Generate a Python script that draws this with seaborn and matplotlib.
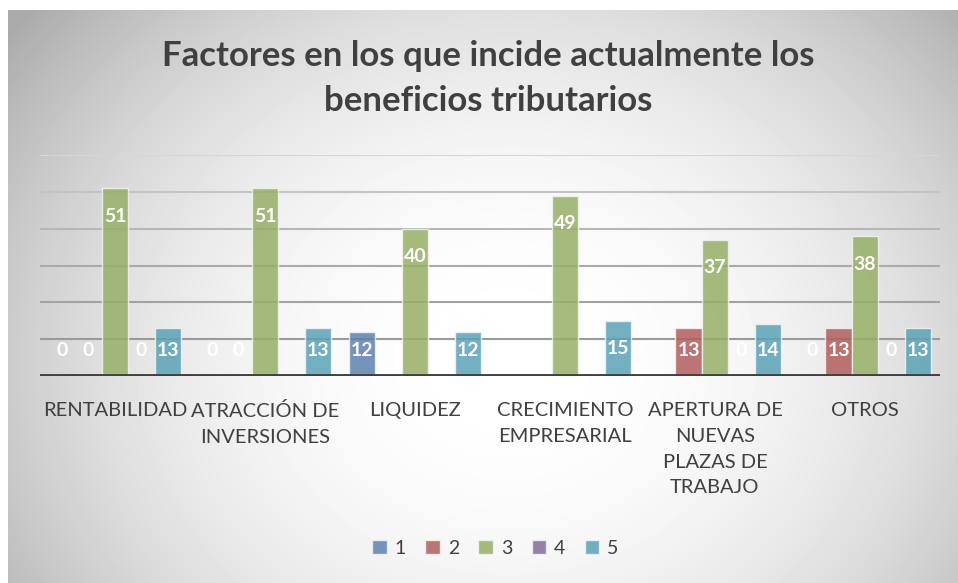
import numpy as np
import pandas as pd
import seaborn as sns
import matplotlib
matplotlib.use('Agg')
import matplotlib.pyplot as plt

# data (NaN = no bar drawn)
categories = ["RENTABILIDAD", "ATRACCIÓN DE\nINVERSIONES", "LIQUIDEZ",
              "CRECIMIENTO\nEMPRESARIAL", "APERTURA DE\nNUEVAS\nPLAZAS DE\nTRABAJO", "OTROS"]
series_names = ["1", "2", "3", "4", "5"]
s1 = [0, 0, 12, np.nan, np.nan, 0]
s2 = [0, 0, np.nan, np.nan, 13, 13]
s3 = [51, 51, 40, 49, 37, 38]
s4 = [0, np.nan, np.nan, np.nan, 0, 0]
s5 = [13, 13, 12, 15, 14, 13]
y_ticks = [0, 10, 20, 30, 40, 50, 60]

colors = ["#4F81BD", "#C0504D", "#9BBB59", "#8064A2", "#4BACC6"]
TITLE = "Factores en los que incide actualmente los\nbeneficios tributarios"

rows = []
for name, vals in zip(series_names, [s1, s2, s3, s4, s5]):
    for cat, v in zip(categories, vals):
        rows.append({"categoria": cat, "serie": name, "valor": v})
df = pd.DataFrame(rows)

sns.set_theme(style="white")
plt.rcParams['font.family'] = ['Lato', 'DejaVu Sans']

fig = plt.figure(figsize=(9.58, 5.83), dpi=100)

# radial grey-to-white background, like the Office chart area
bg = fig.add_axes([8 / 958, 0, 950 / 958, 573 / 583], zorder=-10)
yy, xx = np.mgrid[0:573, 0:950]
r = np.sqrt(((xx - 500) / 520.0) ** 2 + ((yy - 350) / 450.0) ** 2)
shade = 1.0 - 0.22 * np.clip(r, 0, 1.2) ** 2.2
bg.imshow(shade, cmap="gray", vmin=0, vmax=1, aspect="auto", interpolation="bilinear")
bg.set_axis_off()

ax = fig.add_axes([40 / 958, 1 - 376 / 583, 900 / 958, 221 / 583])
ax.patch.set_alpha(0)

sns.barplot(
    data=df, x="categoria", y="valor", hue="serie",
    order=categories, hue_order=series_names, palette=colors,
    width=0.88, errorbar=None, alpha=0.85,
    edgecolor="#F2F2F2", linewidth=1.0, legend=True, ax=ax, zorder=3
)

ax.set_ylim(0, 60)
ax.set_xlim(-0.5, len(categories) - 0.5)
ax.set_yticks(y_ticks)
ax.set_yticklabels([])
ax.tick_params(axis="y", length=0)
ax.tick_params(axis="x", length=0, pad=19)
ax.set_xlabel("")
ax.set_ylabel("")
for lbl in ax.get_xticklabels():
    lbl.set_fontsize(14.5)
    lbl.set_color("#404040")
    lbl.set_linespacing(1.62)
    lbl.set_va("top")

# horizontal gridlines, lighter towards the top
grid_cols = ["#9A9A9A", "#A2A2A2", "#AAAAAA", "#B6B6B6", "#C4C4C4", "#D6D6D6"]
for t, c in zip(y_ticks[1:], grid_cols):
    ax.axhline(t, color=c, linewidth=1.5, zorder=1)
ax.axhline(0, color="#404040", linewidth=3.5, zorder=5)
for sp in ax.spines.values():
    sp.set_visible(False)

# white data labels at the inside end of each bar
for cont in ax.containers:
    for bar in cont:
        h = bar.get_height()
        if np.isnan(h):
            continue
        xc = bar.get_x() + bar.get_width() / 2
        ax.text(xc, max(h - 7.6, 6.8), f"{h:.0f}", ha="center", va="center",
                color="white", fontsize=14, fontweight="bold", zorder=6)

leg = ax.get_legend()
handles = leg.legend_handles
leg.remove()
fig.legend(handles, series_names, loc="center", bbox_to_anchor=(0.517, 0.06),
           ncol=5, frameon=False, fontsize=14, handlelength=0.75, handleheight=0.75,
           handletextpad=0.4, columnspacing=1.0, labelcolor="#404040")

fig.text(0.51, 0.866, TITLE, ha="center", va="center", fontsize=25, fontweight="bold",
         color="#404040", linespacing=1.5)

fig.savefig("out.png", dpi=100, facecolor="white")
